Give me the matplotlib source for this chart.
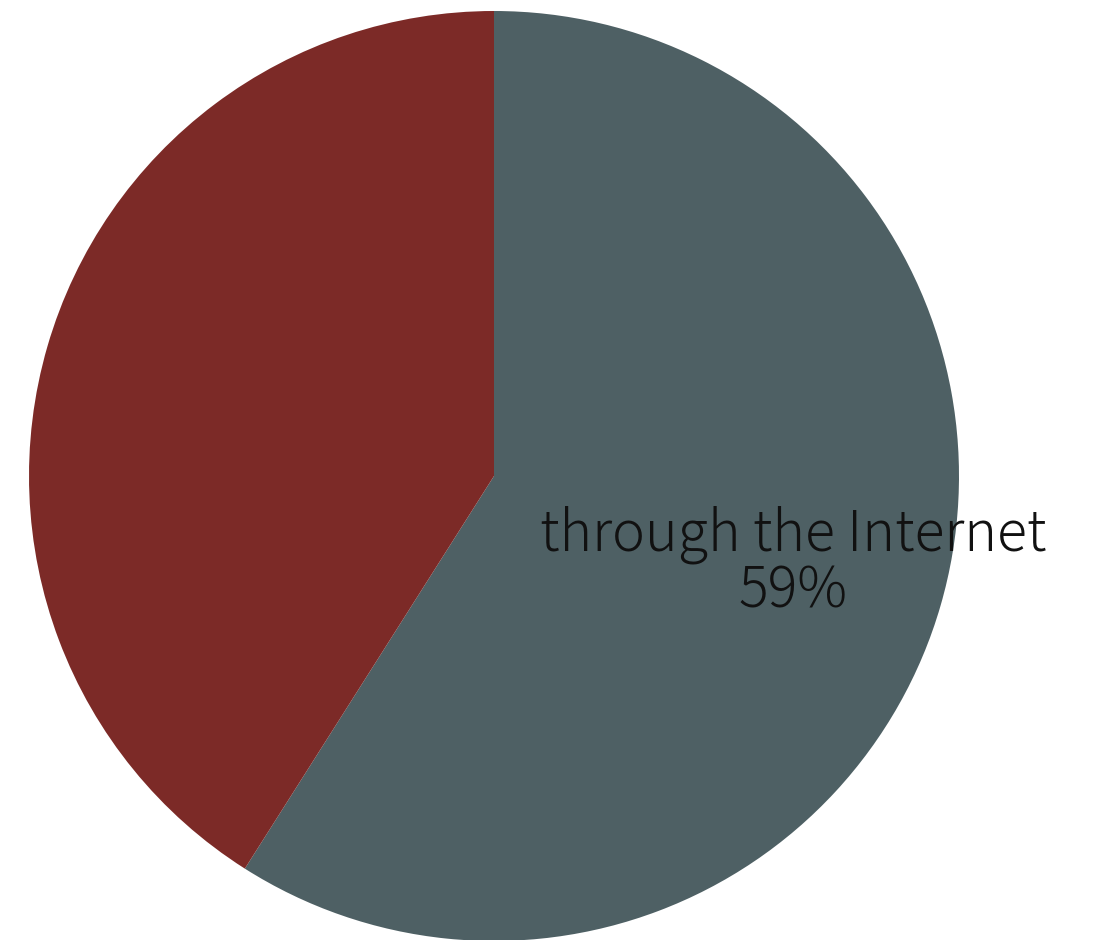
import matplotlib.pyplot as plt

labels = ["through the Internet", ""]
shares = [59, 41]
colors = ["#4E6064", "#7C2A27"]

plt.rcParams['font.family'] = ['Noto Sans CJK JP', 'DejaVu Sans']

fig = plt.figure(figsize=(10.98, 9.4), dpi=100)
ax = fig.add_axes([29 / 1098, -1 / 940, 930 / 1098, 930 / 940])

wedges, texts, autotexts = ax.pie(
    shares, colors=colors, startangle=90, counterclock=False,
    autopct='%.0f%%', pctdistance=0.67, radius=1.0,
    textprops={'fontsize': 40, 'fontweight': 'light', 'color': '#111111',
               'linespacing': 0.95},
)
for lab, t in zip(labels, autotexts):
    if lab:
        t.set_text(lab + "\n" + t.get_text())
    else:
        t.set_text("")

ax.set_xlim(-1, 1)
ax.set_ylim(-1, 1)
ax.set_aspect('equal')
ax.axis('off')

fig.savefig("out.png", dpi=100)
